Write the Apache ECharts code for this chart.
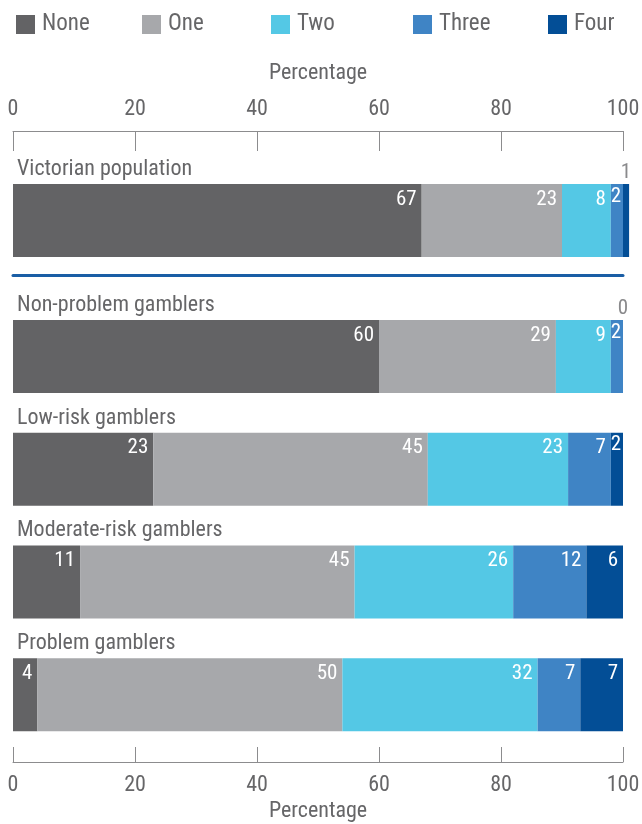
<!DOCTYPE html>
<html>
<head>
<meta charset="utf-8">
<script src="https://cdn.jsdelivr.net/npm/echarts@6/dist/echarts.min.js"></script>
<style>
  html, body { margin: 0; padding: 0; background: #fff; }
  #chart { width: 642px; height: 824px; }
</style>
</head>
<body>
<div id="chart"></div>
<script>
// Number of gambling-related harms, share of each group (%)
const levels = ['None', 'One', 'Two', 'Three', 'Four'];
const overallName = 'Victorian population';
const overallValues = [67, 23, 8, 2, 1];

const groups = ['Non-problem gamblers', 'Low-risk gamblers', 'Moderate-risk gamblers', 'Problem gamblers'];
const noneVals  = [60, 23, 11, 4];
const oneVals   = [29, 45, 45, 50];
const twoVals   = [9, 23, 26, 32];
const threeVals = [2, 7, 12, 7];
const fourVals  = [0, 2, 6, 7];
const groupValues = [noneVals, oneVals, twoVals, threeVals, fourVals];

const axisTicks = [0, 20, 40, 60, 80, 100];

const colors = ['#636365', '#a7a8ab', '#54c8e5', '#3f84c5', '#034e96'];
const GREY = '#666668';

// Pick the narrowest-looking installed face for a condensed typographic feel.
function pickFont() {
  const ctx = document.createElement('canvas').getContext('2d');
  const sample = 'Victorian population';
  const target = 173; // desired width of the sample at 22px
  const cands = [
    ['normal', "'Liberation Sans Narrow'"],
    ['normal', "'DejaVu Sans Condensed'"],
    ['condensed', "'DejaVu Sans'"],
    ['condensed', "'Roboto'"],
    ['extra-condensed', "'Roboto'"],
    ['condensed', "'Open Sans'"],
    ['condensed', "'Noto Sans'"],
    ['extra-condensed', "'Noto Sans'"],
    ['semi-condensed', "'Noto Sans'"]
  ];
  let best = null;
  cands.forEach(([stretch, fam]) => {
    ctx.font = '22px monospace';
    const spec = (stretch === 'normal' ? '' : stretch + ' ') + '22px ' + fam;
    ctx.font = spec;
    if (ctx.font.indexOf('monospace') >= 0) return; // spec rejected
    const w = ctx.measureText(sample).width;
    const d = Math.abs(w - target);
    if (!best || d < best.d) best = { stretch, fam, d, w };
  });
  return best || { stretch: 'normal', fam: 'sans-serif' };
}
const picked = pickFont();
const FONT = picked.fam + ', sans-serif';
const STRETCH = picked.stretch === 'normal' ? 'normal' : picked.stretch;

function txt(size, color, extra) {
  return Object.assign({ fontFamily: FONT, fontWeight: STRETCH, fontSize: size, color: color }, extra || {});
}

// thin segments: label kept tight to the bar end; empty/near-empty ones sit above the bar in grey
function point(v) {
  if (v <= 1) {
    return { value: v, label: { position: 'top', distance: 1, color: '#8a8a8c' } };
  }
  if (v <= 2) {
    return { value: v, label: { distance: 2 } };
  }
  return v;
}

const barLabel = txt(21, '#ffffff', {
  show: true,
  position: 'insideTopRight',
  distance: 5
});

const series = [];
levels.forEach((name, i) => {
  series.push({
    name: name, type: 'bar', stack: 'all', xAxisIndex: 0, yAxisIndex: 0,
    barWidth: 73, clip: false,
    itemStyle: { color: colors[i] },
    label: barLabel,
    data: [point(overallValues[i])]
  });
  series.push({
    name: name, type: 'bar', stack: 'groups', xAxisIndex: 1, yAxisIndex: 1,
    barWidth: 73, clip: false,
    itemStyle: { color: colors[i] },
    label: barLabel,
    data: groupValues[i].map(point)
  });
});

const legendLeft = [16, 142, 271, 413, 548];
const legends = levels.map((name, i) => ({
  data: [name],
  left: legendLeft[i],
  top: 13,
  padding: 0,
  icon: 'rect',
  itemWidth: 19,
  itemHeight: 19,
  itemGap: 0,
  selectedMode: false,
  textStyle: txt(23, GREY, { padding: [0, 0, 0, 2] })
}));

const valueAxisBase = {
  type: 'value', min: 0, max: 100, interval: 20,
  splitLine: { show: false },
  axisLine: { show: true, lineStyle: { color: '#8c8c8e', width: 1 } },
  axisTick: { show: true, inside: true, lineStyle: { color: '#8c8c8e', width: 1 } },
  axisLabel: txt(22, GREY, {
    formatter: v => (axisTicks.indexOf(v) >= 0 ? String(v) : '')
  }),
  nameTextStyle: txt(22, GREY)
};

const catLabel = txt(22, GREY, {
  show: true, inside: true, margin: 4,
  align: 'left', verticalAlign: 'bottom',
  padding: [0, 0, 40, 0]
});

const option = {
  animation: false,
  textStyle: { fontFamily: FONT },
  legend: legends,
  grid: [
    { left: 13, right: 19, top: 184, height: 73, outerBoundsMode: 'none', containLabel: false },
    { left: 13, right: 19, top: 300, height: 451, outerBoundsMode: 'none', containLabel: false }
  ],
  xAxis: [
    Object.assign({}, valueAxisBase, {
      gridIndex: 0, position: 'top', offset: 53,
      name: 'Percentage', nameLocation: 'middle', nameGap: 47,
      axisTick: Object.assign({}, valueAxisBase.axisTick, { length: 20 }),
      axisLabel: Object.assign({}, valueAxisBase.axisLabel, { margin: 11 })
    }),
    Object.assign({}, valueAxisBase, {
      gridIndex: 1, position: 'bottom', offset: 11,
      name: 'Percentage', nameLocation: 'middle', nameGap: 34,
      axisTick: Object.assign({}, valueAxisBase.axisTick, { length: 15 }),
      axisLabel: Object.assign({}, valueAxisBase.axisLabel, { margin: 12 })
    }),
    // divider between the population total and the gambler groups
    {
      type: 'value', gridIndex: 1, position: 'top', offset: 25, min: 0, max: 100,
      splitLine: { show: false },
      axisLine: { show: true, lineStyle: { color: '#1a5ea5', width: 3 } },
      axisTick: { show: false },
      axisLabel: { show: false }
    }
  ],
  yAxis: [
    {
      type: 'category', gridIndex: 0, data: [overallName],
      axisLine: { show: false }, axisTick: { show: false },
      axisLabel: catLabel
    },
    {
      type: 'category', gridIndex: 1, data: groups, inverse: true,
      axisLine: { show: false }, axisTick: { show: false },
      axisLabel: catLabel
    }
  ],
  series: series
};

const chart = echarts.init(document.getElementById('chart'), null, { renderer: 'canvas' });
chart.setOption(option);
</script>
</body>
</html>
